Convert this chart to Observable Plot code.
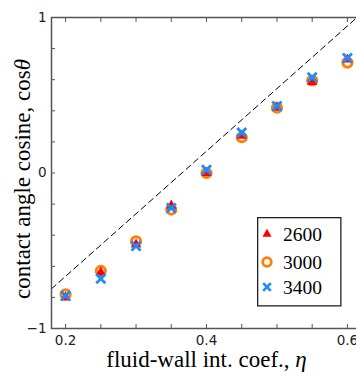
<!DOCTYPE html>
<html><head><meta charset="utf-8">
<script src="https://cdn.jsdelivr.net/npm/d3@7"></script>
<script src="https://cdn.jsdelivr.net/npm/@observablehq/plot@0.6"></script>
<style>
html,body{margin:0;padding:0;overflow:hidden;background:#fff;}
#wrap{position:relative;width:356px;height:378px;overflow:hidden;}
#chart svg{max-width:none !important;}
#legend{position:absolute;left:257px;top:217px;}
</style>
</head><body>
<div id="wrap"><div id="chart"></div><div id="legend"></div></div>
<script>
const eta = [0.2, 0.25, 0.3, 0.35, 0.4, 0.45, 0.5, 0.55, 0.6];
const cos2600 = [-0.80, -0.64, -0.46, -0.21, 0.00, 0.24, 0.42, 0.585, 0.73];
const cos3000 = [-0.78, -0.63, -0.44, -0.235, 0.00, 0.23, 0.42, 0.595, 0.71];
const cos3400 = [-0.79, -0.68, -0.47, -0.225, 0.02, 0.26, 0.43, 0.615, 0.74];
const seriesNames = ["2600", "3000", "3400"];
const lineEta = [0.18, 0.6136];
const lineCos = [-0.745, 1.0];
const xTickLabels = [0.2, 0.4, 0.6];
const xMinorTicks = [0.2, 0.25, 0.3, 0.35, 0.4, 0.45, 0.5, 0.55, 0.6];
const yTicks = [-1, -0.8, -0.6, -0.4, -0.2, 0, 0.2, 0.4, 0.6, 0.8, 1];
const yTickLabels = [-1, 0, 1];
const xTitle = "fluid-wall int. coef., η";
const yTitle = "contact angle cosine, cosθ";

const colors = {"2600": "#ff0000", "3000": "#ff8000", "3400": "#1a8cff"};
const pts = (vals) => eta.map((e, i) => ({eta: e, cos: vals[i]}));
const line = lineEta.map((e, i) => ({eta: e, cos: lineCos[i]}));

const fmt = d => d < 0 ? "\u2212" + Math.abs(d) : String(d);

const chart = Plot.plot({
  width: 366, height: 378,
  marginLeft: 51, marginRight: 5, marginTop: 17, marginBottom: 50,
  style: {maxWidth: "none"},
  x: {domain: [0.18, 0.62]},
  y: {domain: [-1, 1]},
  marks: [
    Plot.line(line, {x: "eta", y: "cos", stroke: "#000", strokeWidth: 1, strokeDasharray: "6,4", clip: true}),
    Plot.dot(pts(cos3000), {x: "eta", y: "cos", r: 4.6, stroke: colors["3000"], strokeWidth: 3, fill: "none"}),
    Plot.dot(pts(cos2600), {x: "eta", y: "cos", r: 5, symbol: "triangle2", fill: colors["2600"], stroke: "none"}),
    Plot.dot(pts(cos3400), {x: "eta", y: "cos", r: 4.2, symbol: "times", stroke: colors["3400"], strokeWidth: 2.8}),
    Plot.frame({stroke: "#555", strokeWidth: 1.5}),
    Plot.axisX({anchor: "bottom", ticks: xMinorTicks, tickSize: -4, tickFormat: () => "", stroke: "#555", label: null}),
    Plot.axisX({anchor: "top", ticks: xMinorTicks, tickSize: -4, tickFormat: () => "", stroke: "#555", label: null}),
    Plot.axisX({anchor: "bottom", ticks: xTickLabels, tickSize: 0, tickPadding: 7, tickFormat: fmt, fontSize: 13.5, fontFamily: "DejaVu Sans", fill: "#222", label: null}),
    Plot.axisY({anchor: "left", ticks: yTicks, tickSize: -4, tickFormat: () => "", stroke: "#555", label: null}),
    Plot.axisY({anchor: "right", ticks: yTicks, tickSize: -4, tickFormat: () => "", stroke: "#555", label: null}),
    Plot.axisY({anchor: "left", ticks: yTickLabels, tickSize: 0, tickPadding: 5, tickFormat: fmt, fontSize: 13.5, fontFamily: "DejaVu Sans", fill: "#222", label: null}),
    Plot.text([xTitle], {text: d => d, frameAnchor: "bottom", dy: 38, dx: 0, fontSize: 23, fontFamily: "Liberation Serif", fill: "#000"}),
    Plot.text([yTitle], {text: d => d, frameAnchor: "left", textAnchor: "middle", rotate: -90, dx: -29, dy: 6, fontSize: 23, fontFamily: "Liberation Serif", fill: "#000"})
  ]
});
chart.style.maxWidth = "none";
document.getElementById("chart").appendChild(chart);

// italicize Greek symbols in titles
d3.select(chart).selectAll("text").each(function() {
  const t = this.textContent;
  if (t === xTitle || t === yTitle) {
    const sym = t.slice(-1);
    const base = t.slice(0, -1);
    const sel = d3.select(this);
    sel.text(null);
    sel.append("tspan").text(base);
    sel.append("tspan").attr("font-style", "italic").text(sym);
  }
});

// legend (SVG overlay)
const lw = 85, lh = 90;
const lsvg = d3.select("#legend").append("svg").attr("width", lw).attr("height", lh);
lsvg.append("rect").attr("x", 0.65).attr("y", 0.65).attr("width", lw - 1.8).attr("height", lh - 1.8)
  .attr("fill", "#fff").attr("stroke", "#222").attr("stroke-width", 1.3);
const rowY = [17, 45, 70];
seriesNames.forEach((name, i) => {
  const g = lsvg.append("g").attr("transform", `translate(10,${rowY[i]})`);
  if (i === 0) g.append("path").attr("d", d3.symbol(d3.symbolTriangle2, 60)()).attr("fill", colors[name]);
  if (i === 1) g.append("circle").attr("r", 4.3).attr("fill", "none").attr("stroke", colors[name]).attr("stroke-width", 2.8);
  if (i === 2) g.append("path").attr("d", d3.symbol(d3.symbolTimes, 40)()).attr("fill", "none").attr("stroke", colors[name]).attr("stroke-width", 2.6);
  lsvg.append("text").attr("x", 26).attr("y", rowY[i]).attr("dy", "0.34em")
    .attr("font-family", "Liberation Serif").attr("font-size", 19.5).attr("fill", "#000").text(name);
});
</script>
</body></html>
